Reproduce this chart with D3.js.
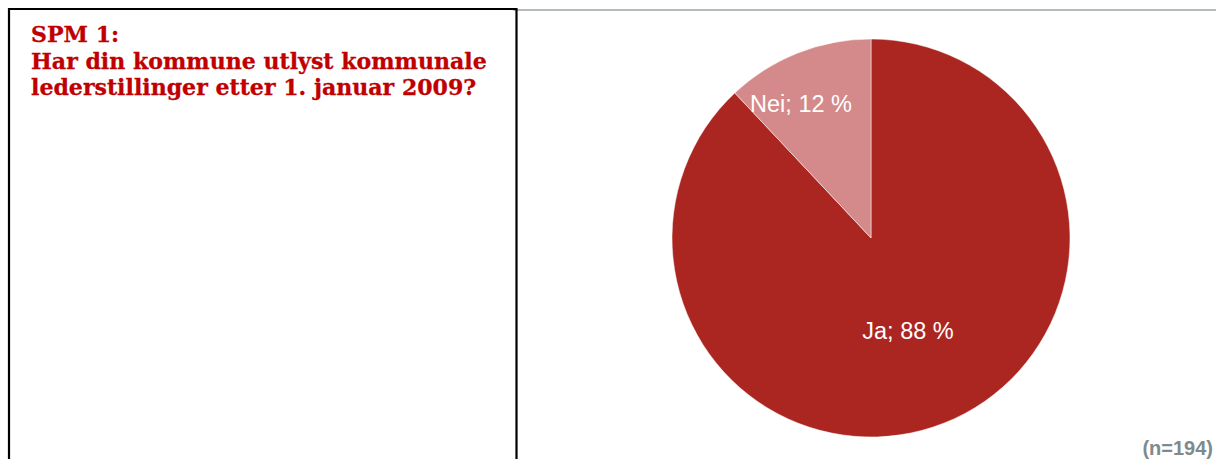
<!DOCTYPE html>
<html><head><meta charset="utf-8">
<script src="https://cdn.jsdelivr.net/npm/d3@7"></script>
<style>html,body{margin:0;padding:0;background:#fff;}svg{display:block;}</style>
</head><body>
<svg id="c" width="1216" height="459"></svg>
<script>
const categories = ["Ja", "Nei"];
const values = [88, 12];
const colors = ["#AB2620", "#D48A8A"];
const titleLines = ["SPM 1:", "Har din kommune utlyst kommunale", "lederstillinger etter 1. januar 2009?"];
const note = "(n=194)";

const svg = d3.select("#c");
// gray top rule
svg.append("line").attr("x1", 513).attr("x2", 1216).attr("y1", 10).attr("y2", 10)
  .attr("stroke", "#b4bcbc").attr("stroke-width", 2);
// left box
svg.append("path").attr("d", "M9,459 L9,9 L516.5,9 L516.5,459")
  .attr("fill", "none").attr("stroke", "#000").attr("stroke-width", 2.2);

const t = svg.append("text").attr("x", 31).attr("y", 42)
  .attr("fill", "#C00000").attr("font-family", "'DejaVu Serif', serif")
  .attr("font-weight", "bold").attr("font-size", 22)
  .attr("stroke", "#C00000").attr("stroke-width", 0.3);
const spans = titleLines.map((l, i) => t.append("tspan").attr("x", 31).attr("dy", i ? 26.5 : 0).text(l));
// fit line 2 width to ~456px
const w = spans[1].node().getComputedTextLength();
t.attr("font-size", Math.min(23, 22 * 456 / w));

const cx = 871, cy = 238, r = 199;
const pie = d3.pie().sort(null).value(d => d.v);
const data = pie(categories.map((c, i) => ({c, v: values[i], col: colors[i]})));
const arc = d3.arc().innerRadius(0).outerRadius(r);
const g = svg.append("g").attr("transform", `translate(${cx},${cy})`);
g.selectAll("path").data(data).join("path").attr("d", arc)
  .attr("fill", d => d.data.col).attr("stroke", "#fff").attr("stroke-width", 0.5);

const labelPos = {Ja: [908 - cx, 339 - cy], Nei: [801 - cx, 112 - cy]};
g.selectAll("text").data(data).join("text")
  .attr("x", d => labelPos[d.data.c][0]).attr("y", d => labelPos[d.data.c][1])
  .attr("text-anchor", "middle")
  .attr("fill", "#fff").attr("font-family", "'Liberation Sans', Arial, sans-serif")
  .attr("font-size", 23.5).text(d => `${d.data.c}; ${d.data.v} %`);

svg.append("text").attr("x", 1213).attr("y", 455).attr("text-anchor", "end")
  .attr("fill", "#7f8a8c").attr("font-family", "'Liberation Sans', Arial, sans-serif")
  .attr("font-weight", "bold").attr("font-size", 20).text(note);
</script>
</body></html>
